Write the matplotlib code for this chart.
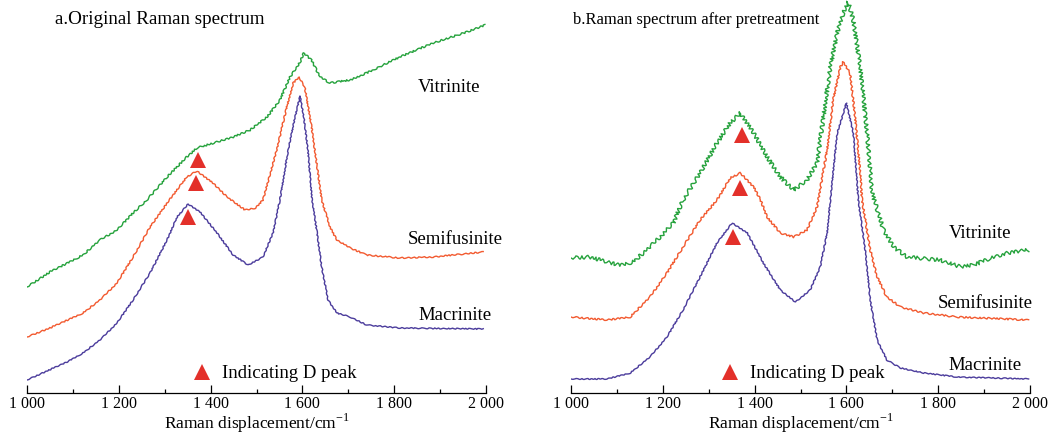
import matplotlib
matplotlib.use("Agg")
import matplotlib.pyplot as plt
from matplotlib.ticker import MultipleLocator, FuncFormatter

# ─────────────────────────────────────────────
# Data (intensity in arbitrary units, stacked)
# ─────────────────────────────────────────────

# a. Original Raman spectrum
a_mac_x = [1000, 1087, 1122, 1159, 1196, 1231, 1268, 1305, 1327, 1351, 1377, 1414, 1449, 1482,
           1514, 1536, 1551, 1569, 1584, 1595, 1603, 1612, 1621, 1632, 1642, 1656, 1675, 1704,
           1740, 1812, 1994]
a_mac_y = [13, 31, 40, 53, 70, 93, 120, 153, 176, 189, 181, 160, 138, 128,
           136, 160, 193, 243, 276, 297, 276, 243, 193, 160, 126, 93, 80, 76,
           68, 65, 64]

a_semi_x = [1000, 1050, 1122, 1159, 1196, 1231, 1268, 1310, 1348, 1370, 1405, 1436, 1475, 1498,
            1514, 1544, 1566, 1580, 1593, 1605, 1620, 1634, 1642, 1660, 1675, 1704, 1740, 1812,
            1885, 1994]
a_semi_y = [56, 65, 80, 93, 110, 136, 166, 193, 216, 222, 210, 196, 183, 185,
            193, 243, 286, 310, 316, 306, 266, 220, 193, 166, 153, 145, 138, 135,
            136, 141]

a_vit_x = [1000, 1050, 1122, 1159, 1196, 1231, 1261, 1305, 1348, 1370, 1414, 1449, 1486, 1523,
           1551, 1573, 1595, 1603, 1620, 1638, 1660, 1704, 1740, 1812, 1885, 1958, 1998]
a_vit_y = [106, 121, 138, 153, 163, 180, 193, 216, 236, 245, 251, 256, 263, 276,
           293, 316, 331, 340, 333, 316, 310, 313, 320, 336, 350, 361, 368]

# b. Raman spectrum after pretreatment
b_mac_x = [1000, 1078, 1129, 1172, 1209, 1244, 1281, 1318, 1351, 1384, 1419, 1456, 1489, 1521,
           1543, 1558, 1565, 1580, 1600, 1615, 1626, 1641, 1652, 1667, 1688, 1718, 1768, 1841,
           1997]
b_mac_y = [14, 14, 20, 36, 56, 83, 116, 150, 170, 160, 130, 103, 91, 103,
           126, 160, 193, 260, 290, 260, 193, 143, 93, 53, 33, 25, 20, 16,
           14]

b_semi_x = [1000, 1078, 1129, 1172, 1209, 1244, 1281, 1318, 1347, 1369, 1398, 1413, 1427, 1456,
            1485, 1514, 1536, 1558, 1571, 1587, 1593, 1608, 1619, 1630, 1634, 1652, 1667, 1688,
            1718, 1768, 1841, 1997]
b_semi_y = [76, 73, 76, 96, 120, 146, 173, 193, 215, 220, 206, 193, 176, 160,
            156, 163, 186, 243, 293, 326, 331, 320, 276, 220, 193, 143, 116, 96,
            86, 80, 76, 73]

b_vit_x = [1000, 1041, 1078, 1107, 1135, 1165, 1194, 1223, 1244, 1281, 1318, 1347, 1369, 1398,
           1427, 1456, 1485, 1514, 1536, 1550, 1565, 1580, 1593, 1604, 1615, 1630, 1645, 1656,
           1681, 1703, 1732, 1804, 1849, 1878, 1914, 1950, 1997]
b_vit_y = [135, 136, 131, 128, 131, 143, 156, 170, 193, 220, 250, 270, 280, 260,
           236, 216, 203, 213, 230, 276, 326, 360, 380, 391, 373, 326, 260, 200,
           163, 146, 136, 133, 126, 128, 135, 140, 143]

# D peak markers (wavenumber, stacked intensity)
a_dpk_x = [1372, 1368, 1351]
a_dpk_y = [233, 210, 176]
b_dpk_x = [1373, 1369, 1353]
b_dpk_y = [258, 205, 156]

GREEN = "#25a23c"
ORANGE = "#f25a30"
PURPLE = "#4b3c9c"
RED = "#e3302a"
SERIF = ["Liberation Serif", "DejaVu Serif"]
LABEL_SIZE = 13.5


def fmt_tick(v, _pos):
    v = int(round(v))
    return f"{v // 1000} {v % 1000:03d}" if v >= 1000 else str(v)


def style_axis(ax):
    for side in ("left", "right", "top"):
        ax.spines[side].set_visible(False)
    ax.spines["bottom"].set_linewidth(0.9)
    ax.set_xlim(1000, 2000)
    ax.set_ylim(0, 393)
    ax.set_yticks([])
    ax.xaxis.set_major_locator(MultipleLocator(200))
    ax.xaxis.set_minor_locator(MultipleLocator(100))
    ax.xaxis.set_major_formatter(FuncFormatter(fmt_tick))
    ax.tick_params(axis="x", which="major", direction="in", length=6, width=0.9,
                   labelsize=11.5, pad=2)
    ax.tick_params(axis="x", which="minor", direction="in", length=3, width=0.9)
    for lab in ax.get_xticklabels():
        lab.set_family(SERIF)
    ax.set_xlabel(r"Raman displacement/cm$^{\mathregular{-1}}$", family=SERIF,
                  fontsize=12.5, labelpad=0)
    ax.patch.set_alpha(0)


def draw_panel(ax, curves, dpk_x, dpk_y, labels, title, title_x, title_size, legend_pos):
    for (xs, ys, color, noise) in curves:
        ln, = ax.plot(xs, ys, color=color, linewidth=1.0)
        ln.set_sketch_params(scale=noise, length=6, randomness=3)
    ax.plot(dpk_x, dpk_y, linestyle="none", marker="^", markersize=12,
            color=RED, markeredgewidth=0)
    for (txt, x, y) in labels:
        ax.text(x, y, txt, family=SERIF, fontsize=LABEL_SIZE, ha="left", va="center")
    ax.text(title_x, 373, title, family=SERIF, fontsize=title_size, ha="left", va="center")
    mx, tx = legend_pos
    ax.plot([mx], [21], linestyle="none", marker="^", markersize=12, color=RED,
            markeredgewidth=0)
    ax.text(tx, 19, "Indicating D peak", family=SERIF, fontsize=LABEL_SIZE,
            ha="left", va="center")
    style_axis(ax)


fig = plt.figure(figsize=(10.51, 4.33), dpi=100)
ax_a = fig.add_axes([27 / 1051, 1 - 393 / 433, 459 / 1051, 393 / 433])
ax_b = fig.add_axes([571 / 1051, 1 - 393 / 433, 459 / 1051, 393 / 433])

draw_panel(ax_a,
           [(a_vit_x, a_vit_y, GREEN, 0.8),
            (a_semi_x, a_semi_y, ORANGE, 0.6),
            (a_mac_x, a_mac_y, PURPLE, 0.5)],
           a_dpk_x, a_dpk_y,
           [("Vitrinite", 1852, 305), ("Semifusinite", 1830, 153), ("Macrinite", 1852, 77)],
           "a.Original Raman spectrum", 1061, 13.7, (1381, 1425))

draw_panel(ax_b,
           [(b_vit_x, b_vit_y, GREEN, 1.8),
            (b_semi_x, b_semi_y, ORANGE, 0.8),
            (b_mac_x, b_mac_y, PURPLE, 0.5)],
           b_dpk_x, b_dpk_y,
           [("Vitrinite", 1822, 159), ("Semifusinite", 1800, 89), ("Macrinite", 1822, 27)],
           "b.Raman spectrum after pretreatment", 1004, 11.9, (1347, 1390))

fig.savefig("out.png", dpi=100)
